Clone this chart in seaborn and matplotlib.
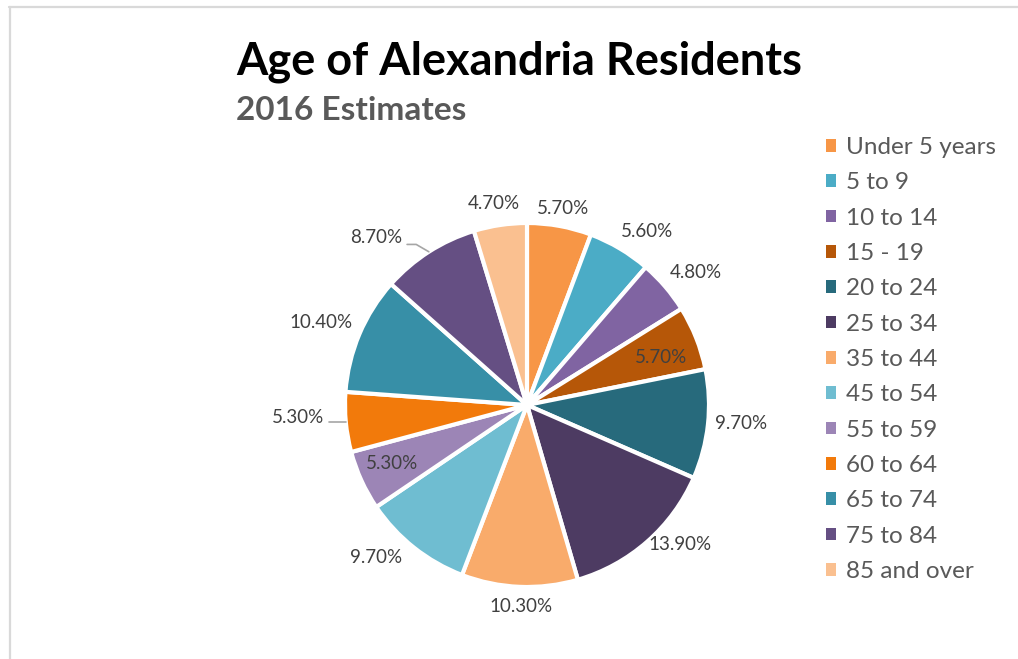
import numpy as np
import matplotlib
matplotlib.use("Agg")
import matplotlib.pyplot as plt
import seaborn as sns
from matplotlib.lines import Line2D
from matplotlib.patches import Patch

# ------------------------------------------------------------
# data
# ------------------------------------------------------------
age_groups = ["Under 5 years", "5 to 9", "10 to 14", "15 - 19", "20 to 24",
              "25 to 34", "35 to 44", "45 to 54", "55 to 59", "60 to 64",
              "65 to 74", "75 to 84", "85 and over"]
shares = [5.7, 5.6, 4.8, 5.7, 9.7, 13.9, 10.3, 9.7, 5.3, 5.3, 10.4, 8.7, 4.7]
pct_labels = [f"{v:.2f}%" for v in shares]

slice_colors = ["#F79646", "#4BACC6", "#8064A2", "#B65708", "#276A7C",
                "#4D3B62", "#F9AB6B", "#6FBDD1", "#9C85B6", "#F27A0B",
                "#378FA7", "#654F83", "#FAC090"]

# label placement (radius factor, angular nudge in degrees)
label_dist = [1.10, 1.16, 1.18, 0.78, 1.18, 1.14, 1.11, 1.18, 0.81, 1.26, 1.22, 1.24, 1.12]
label_nudge = [0, -4, -2.4, -2.3, 1.3, 6.4, 0.6, -6.2, -1.3, -2.4, 1, 9.3, 1]
has_leader = [False] * 9 + [True, False, True, False]

sns.set_theme(style="white")
plt.rcParams["font.family"] = ["Lato", "DejaVu Sans"]

W, H = 1018, 659
fig = plt.figure(figsize=(W / 100, H / 100), dpi=100)
fig.patch.set_facecolor("white")

# light frame (top and left edges)
fig.add_artist(Line2D([9 / W, 1.0], [1 - 7 / H, 1 - 7 / H], transform=fig.transFigure,
                      color="#D9D9D9", lw=1.6))
fig.add_artist(Line2D([10 / W, 10 / W], [0, 1 - 7 / H], transform=fig.transFigure,
                      color="#D9D9D9", lw=1.6))

# pie axes: center (527, 405), radius 182 px
cx, cy, R = 527, 405, 182
ax = fig.add_axes([(cx - R) / W, (H - cy - R) / H, 2 * R / W, 2 * R / H])

wedges, _ = ax.pie(shares, colors=slice_colors, startangle=90, counterclock=False,
                   wedgeprops=dict(edgecolor="white", linewidth=3))
ax.set_xlim(-1, 1)
ax.set_ylim(-1, 1)
ax.set_aspect("equal")
ax.axis("off")

for w, txt, d, nud, lead in zip(wedges, pct_labels, label_dist, label_nudge, has_leader):
    mid = np.deg2rad((w.theta1 + w.theta2) / 2)
    ang = mid + np.deg2rad(nud)
    tx, ty = d * np.cos(ang), d * np.sin(ang)
    ax.text(tx, ty, txt, ha="center", va="center", fontsize=13.5, color="#404040")
    if lead:
        ex, ey = np.cos(mid), np.sin(mid)
        sx = tx + 0.17
        if ey > 0.3:
            ax.plot([sx, sx + 0.05, ex], [ty - 0.04, ty - 0.04, ey], color="#A6A6A6",
                    lw=1.2, clip_on=False)
        else:
            ax.plot([sx, ex], [ey, ey], color="#A6A6A6", lw=1.2, clip_on=False)

# titles
fig.text(236 / W, 1 - 62 / H, "Age of Alexandria Residents", fontsize=32.5,
         fontweight="bold", color="black", va="center", ha="left")
fig.text(236 / W, 1 - 110 / H, "2016 Estimates", fontsize=24,
         fontweight="bold", color="#595959", va="center", ha="left")

# legend
handles = [Patch(facecolor=c, edgecolor="none") for c in slice_colors]
fig.legend(handles, age_groups, loc="upper left", bbox_to_anchor=(826 / W, 1 - 137 / H),
           frameon=False, fontsize=17.5, labelcolor="#595959", handlelength=0.42,
           handleheight=0.42, handletextpad=0.4, labelspacing=0.59,
           borderpad=0, borderaxespad=0)

fig.savefig("out.png", dpi=100, facecolor="white")
